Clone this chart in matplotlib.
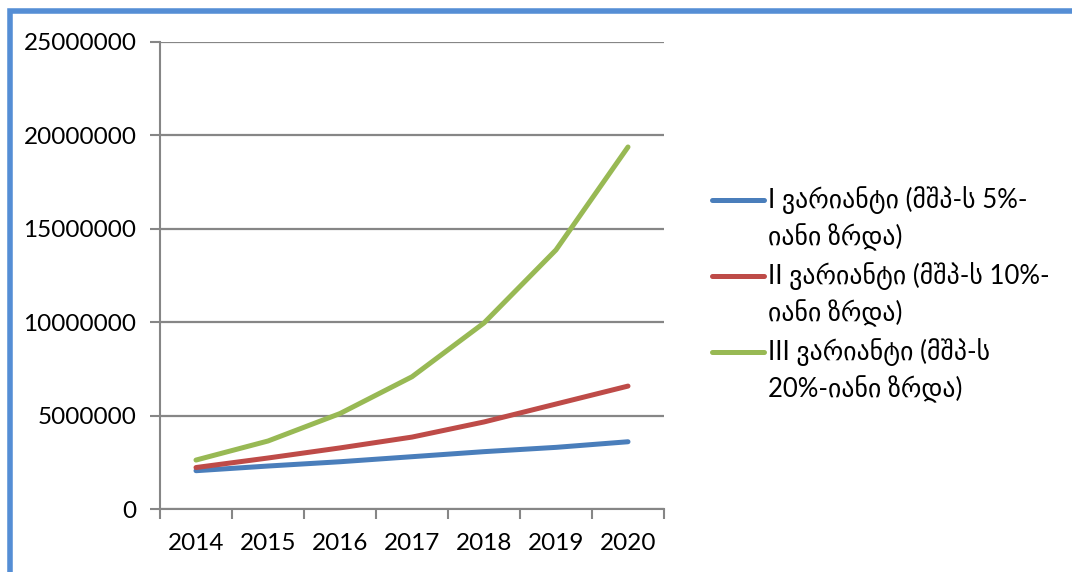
import numpy as np
import matplotlib
matplotlib.use("Agg")
import matplotlib.pyplot as plt
from matplotlib.lines import Line2D
from matplotlib.patches import Rectangle
from matplotlib.ticker import FixedLocator, FuncFormatter

plt.rcParams['font.family'] = ['Lato', 'DejaVu Sans']

years = ["2014", "2015", "2016", "2017", "2018", "2019", "2020"]
var1 = [2050000, 2300000, 2530000, 2800000, 3070000, 3300000, 3600000]
var2 = [2220000, 2730000, 3270000, 3850000, 4660000, 5620000, 6580000]
var3 = [2620000, 3640000, 5110000, 7080000, 9960000, 13870000, 19380000]
labels = [
    ["I ვარიანტი (მშპ-ს 5%-", "იანი ზრდა)"],
    ["II ვარიანტი (მშპ-ს 10%-", "იანი ზრდა)"],
    ["III ვარიანტი (მშპ-ს", "20%-იანი ზრდა)"],
]
colors = ["#4A7EBB", "#BE4B48", "#98B954"]
GRID = "#868686"

W, H = 1072, 572
fig = plt.figure(figsize=(W / 100, H / 100), dpi=100)
ax = fig.add_axes([160 / W, 1 - 509 / H, 504 / W, 467 / H])

x = np.arange(len(years))
for ys, c in zip([var1, var2, var3], colors):
    ax.plot(x, ys, color=c, lw=3.6, solid_capstyle="round", zorder=3)

ax.set_xlim(-0.5, len(years) - 0.5)
ax.set_ylim(0, 25000000)
ax.set_yticks(np.arange(0, 25000001, 5000000))
ax.yaxis.set_major_formatter(FuncFormatter(lambda v, p: f"{int(v)}"))
ax.yaxis.grid(True, color=GRID, lw=1.6)
ax.set_axisbelow(True)

# category ticks between years, labels centred on each year
ax.xaxis.set_major_locator(FixedLocator(np.arange(-0.5, len(years), 1.0)))
ax.xaxis.set_minor_locator(FixedLocator(x))
ax.set_xticklabels([])
ax.set_xticklabels(years, minor=True)
ax.tick_params(axis="x", which="major", length=7, width=1.5, color=GRID)
ax.tick_params(axis="x", which="minor", length=0, pad=17, labelsize=17.5)
ax.tick_params(axis="y", length=7, width=1.5, color=GRID, pad=10, labelsize=17.5)

for s in ["top", "right"]:
    ax.spines[s].set_visible(False)
for s in ["left", "bottom"]:
    ax.spines[s].set_color(GRID)
    ax.spines[s].set_linewidth(1.5)

# legend drawn by hand so the key sits on the first line of each label
for i, (lab, c) in enumerate(zip(labels, colors)):
    ytop = 200 + i * 76
    fig.add_artist(Line2D([712 / W, 764 / W], [1 - ytop / H] * 2, color=c, lw=3.6,
                          solid_capstyle="round", transform=fig.transFigure))
    for j, line in enumerate(lab):
        fig.text(768 / W, 1 - (ytop + j * 37) / H, line, fontsize=18.5,
                 va="center", ha="left")

# blue frame around the chart
fig.add_artist(Rectangle((10 / W, -0.2), 1.2, 1.2 - 10.5 / H, fill=False,
                         edgecolor="#558ED5", lw=4, transform=fig.transFigure))

fig.savefig("out.png", dpi=100)
